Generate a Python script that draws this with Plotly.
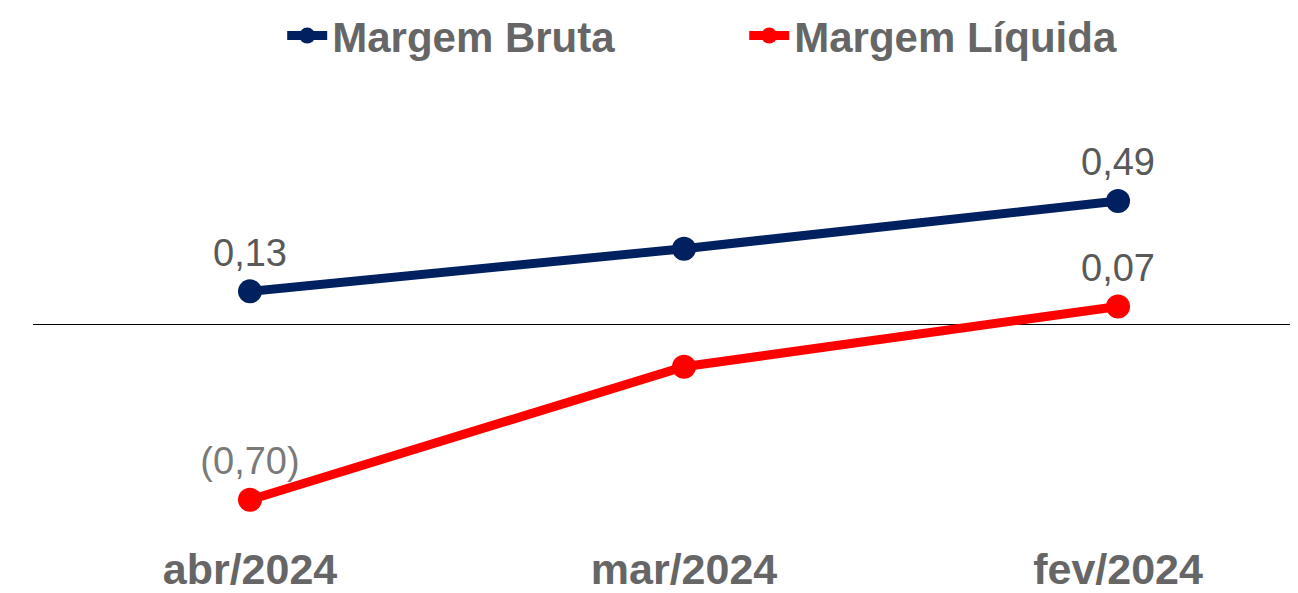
import plotly.graph_objects as go

categories = ["abr/2024", "mar/2024", "fev/2024"]
margem_bruta = [0.13, 0.30, 0.49]
margem_liquida = [-0.70, -0.17, 0.07]
bruta_labels = ["0,13", "", "0,49"]
liquida_labels = ["(0,70)", "", "0,07"]

x_idx = list(range(len(categories)))
FONT = "Liberation Sans, Arial"

fig = go.Figure()
fig.add_trace(go.Scatter(
    x=x_idx, y=margem_bruta, name="Margem Bruta", mode="lines+markers+text",
    line=dict(color="#002060", width=9), marker=dict(size=24, color="#002060"),
    text=bruta_labels, textposition="top center",
    textfont=dict(family=FONT, size=38, color="#595959"),
    cliponaxis=False,
))
fig.add_trace(go.Scatter(
    x=x_idx, y=margem_liquida, name="Margem Líquida", mode="lines+markers+text",
    line=dict(color="#FF0000", width=9), marker=dict(size=24, color="#FF0000"),
    text=liquida_labels, textposition="top center",
    textfont=dict(family=FONT, size=38, color=["#7a7a7a", "#595959", "#595959"]),
    cliponaxis=False,
))

fig.update_layout(
    width=1290, height=585,
    margin=dict(l=25, r=0, t=92, b=53, autoexpand=False),
    paper_bgcolor="white", plot_bgcolor="white",
    showlegend=True,
    legend=dict(
        orientation="h", x=0.197, xanchor="left", y=1.146, yanchor="middle",
        font=dict(family=FONT, size=42, color="#666666", weight="bold"),
        itemwidth=40, entrywidth=407,
    ),
    xaxis=dict(
        range=[-0.5, 2.4147], tickmode="array", tickvals=x_idx, ticktext=categories,
        showgrid=False, zeroline=False, showline=False, ticks="",
        automargin=False,
        tickfont=dict(family=FONT, size=43, color="#666666", weight="bold"),
    ),
    yaxis=dict(
        range=[-0.86, 0.892], showgrid=False, showticklabels=False, ticks="",
        automargin=False,
        zeroline=True, zerolinecolor="black", zerolinewidth=1, showline=False,
    ),
)

fig.write_html("out.html")
